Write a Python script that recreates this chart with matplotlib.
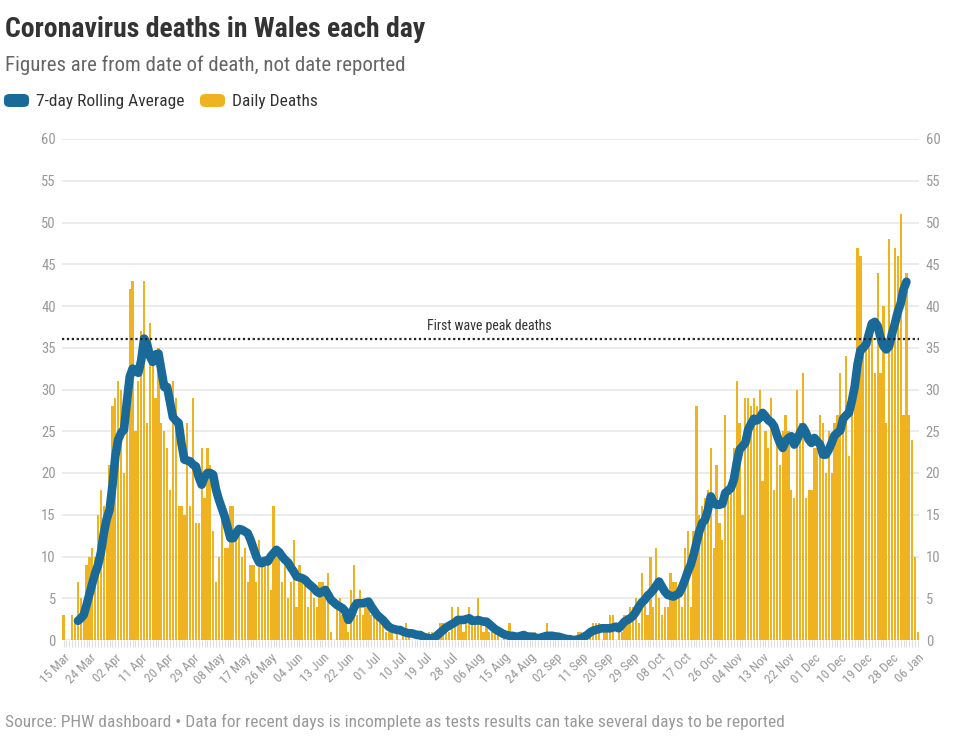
import numpy as np
import pandas as pd
import matplotlib
matplotlib.use("Agg")
import matplotlib.pyplot as plt
import matplotlib.dates as mdates
from matplotlib import font_manager
from matplotlib.patches import FancyBboxPatch

# ---- data ----
start_date = "2020-03-15"
daily_deaths = [
    3, 0, 0, 3, 2, 7, 5, 4, 9, 10, 11, 10, 15, 18, 16, 15, 21, 28, 29, 31,
    30, 20, 32, 42, 43, 25, 31, 37, 43, 26, 38, 34, 29, 35,
    26, 25, 23, 18, 31, 29, 16, 16, 15, 26, 16, 29, 14, 14, 23, 17, 23, 21,
    13, 7, 10, 16, 11, 11, 16, 16, 12, 13, 10, 11, 7, 9, 9, 7, 12, 10, 10, 10,
    6, 16, 11, 10, 7, 9, 5, 7, 12, 4, 9, 7, 7, 4, 6, 5, 4, 7, 7, 6, 8, 1, 0,
    4, 5, 3, 4, 1, 6, 9, 3, 6, 3, 4, 5,
    3, 3, 3, 2, 2, 1, 1, 1, 0, 1, 0, 1, 2, 1, 0, 0, 0, 0, 1, 0, 1, 1, 0, 0,
    2, 2, 1, 1, 4, 2, 4, 2, 1, 3, 4, 3, 2,
    5, 2, 1, 2, 1, 1, 1, 1, 0, 1, 0, 2, 0, 1, 0, 1, 1, 0, 0, 0, 1, 0, 0, 0,
    2, 0, 0, 1, 0, 0, 0, 0, 0, 0, 0, 1,
    1, 1, 1, 1, 2, 2, 2, 0, 1, 1, 3, 3, 0, 1, 1, 3, 3, 4, 4, 5, 2, 8, 5, 3,
    10, 4, 11, 5, 3, 4, 4, 8, 7, 7, 5, 4,
    11, 13, 4, 13, 28, 15, 16, 17, 18, 23, 11, 21, 14, 12, 27, 18, 18, 23,
    31, 26, 15, 29, 29, 28, 29, 28, 30, 19, 25, 23, 29, 18, 25, 21, 25, 27, 25,
    18, 17, 30, 26, 32, 17, 18, 18, 23, 23, 27, 26, 20, 25, 20, 26, 27, 32,
    27, 34, 22, 29, 32, 47, 46, 34, 36, 35, 38, 32, 44, 32, 40, 26, 48, 35,
    47, 46, 51, 27, 44, 27, 24, 10, 1,
]

# 7-day rolling average, starts 5 days after start_date
rolling_start = "2020-03-20"
rolling_avg = [
    2.3, 2.6, 3.0, 4.2, 5.5, 6.8, 8.0, 9.0, 10.5, 12.8,
    14.5, 15.6, 18.5, 22.0, 24.0, 24.8, 25.2, 28.5, 31.5, 32.5,
    32.2, 32.0, 33.5, 36.1, 35.5, 34.0, 33.3, 34.2, 34.3, 32.3,
    30.3, 30.3, 28.5, 26.7, 26.3, 26.0, 23.5, 21.6, 21.5, 21.4,
    21.0, 20.8, 19.5, 18.6, 19.5, 20.0, 20.0, 19.8, 18.0, 16.8,
    15.8, 14.8, 13.5, 12.2, 12.2, 12.8, 13.3, 13.2, 13.0, 12.8,
    12.0, 11.0, 10.0, 9.3, 9.2, 9.5, 9.4, 10.0, 10.4, 10.8,
    10.5, 10.0, 9.6, 9.3, 8.7, 8.2, 7.6, 7.5, 7.4, 7.2,
    6.8, 6.5, 6.2, 5.8, 5.6, 5.8, 6.0, 5.4, 4.8, 4.5,
    4.2, 4.0, 3.8, 3.4, 2.4, 3.0, 3.9, 4.4, 4.4, 4.4,
    4.5, 4.6, 4.0, 3.5, 3.0, 2.7, 2.4, 2.0, 1.6, 1.4,
    1.3, 1.2, 1.2, 1.0, 0.9, 0.8, 0.8, 0.7, 0.6, 0.6,
    0.4, 0.3, 0.2, 0.2, 0.3, 0.6, 0.9, 1.2, 1.5, 1.7,
    1.9, 2.1, 2.4, 2.4, 2.4, 2.5, 2.6, 2.3, 2.3, 2.4,
    2.3, 2.2, 2.2, 1.9, 1.6, 1.3, 1.1, 0.9, 0.7, 0.6,
    0.5, 0.5, 0.4, 0.4, 0.5, 0.6, 0.4, 0.4, 0.4, 0.3,
    0.2, 0.3, 0.4, 0.5, 0.5, 0.5, 0.4, 0.4, 0.3, 0.2,
    0.1, 0.1, 0.0, 0.0, 0.1, 0.2, 0.4, 0.6, 0.9, 1.1,
    1.2, 1.3, 1.4, 1.4, 1.4, 1.4, 1.5, 1.6, 1.4, 1.8,
    2.2, 2.4, 2.6, 2.9, 3.4, 4.0, 4.5, 4.8, 5.3, 5.6,
    6.0, 6.5, 7.0, 6.4, 5.8, 5.4, 5.3, 5.2, 5.4, 5.6,
    6.3, 7.2, 8.2, 9.0, 10.2, 11.6, 13.0, 14.0, 14.4, 15.6,
    17.2, 16.4, 16.2, 16.2, 16.3, 17.6, 17.9, 18.2, 19.2, 21.2,
    22.8, 23.2, 23.6, 25.2, 25.9, 26.5, 26.3, 26.6, 27.2, 26.8,
    26.3, 26.1, 25.6, 24.5, 23.6, 23.0, 23.8, 24.2, 24.4, 23.4,
    24.0, 24.8, 25.5, 24.9, 24.0, 23.6, 24.2, 23.8, 23.4, 22.2,
    22.2, 22.8, 23.6, 24.5, 24.8, 25.1, 26.5, 26.9, 27.2, 28.6,
    30.3, 33.0, 34.7, 35.0, 35.4, 36.7, 37.9, 38.1, 37.6, 36.2,
    35.2, 34.8, 35.2, 36.7, 37.9, 39.3, 40.3, 42.0, 42.9,
]

first_wave_peak = 36.1
y_ticks = list(range(0, 65, 5))

title = "Coronavirus deaths in Wales each day"
subtitle = "Figures are from date of death, not date reported"
source = ("Source: PHW dashboard \u2022 Data for recent days is incomplete as "
          "tests results can take several days to be reported")

BAR_COLOR = "#EFB322"
LINE_COLOR = "#1A6A99"
GRID_COLOR = "#e6e6e6"
TICK_COLOR = "#999999"


def pick_font(candidates):
    names = {f.name for f in font_manager.fontManager.ttflist}
    for c in candidates:
        if c in names:
            return c
    return "DejaVu Sans"


FONT = pick_font(["Roboto Condensed", "Roboto", "Open Sans"])
# font sizes: condensed face can use the reference sizes, otherwise shrink
if FONT == "Roboto Condensed":
    fs = dict(title=20, sub=15, legend=12.5, source=12.5, ytick=10.5, xtick=9.5, note=10)
else:
    fs = dict(title=17, sub=13.4, legend=11, source=11.1, ytick=10, xtick=8.8, note=9.6)
plt.rcParams["font.family"] = [FONT, "DejaVu Sans"]

dates = pd.date_range(start_date, periods=len(daily_deaths), freq="D")
roll_dates = pd.date_range(rolling_start, periods=len(rolling_avg), freq="D")

W, H = 967, 737
fig = plt.figure(figsize=(W / 100, H / 100), dpi=100)

left_px, right_px, top_px, bottom_px = 62, 919.5, 139, 640
ax = fig.add_axes([left_px / W, 1 - bottom_px / H,
                   (right_px - left_px) / W, (bottom_px - top_px) / H])

ax.bar(dates, daily_deaths, width=0.78, color=BAR_COLOR, zorder=2)
ax.plot(roll_dates, rolling_avg, color=LINE_COLOR, lw=6.2,
        solid_capstyle="round", solid_joinstyle="round", zorder=3)

ax.axhline(first_wave_peak, color="#222222", lw=1.6,
           linestyle=(0, (1, 1.2)), zorder=4)
ax.text(dates[148], first_wave_peak + 0.7,
        "First wave peak deaths", ha="center", va="bottom",
        fontsize=fs["note"], color="#333333", zorder=5)

ax.set_xlim(dates[0] - pd.Timedelta(hours=13), dates[-1] + pd.Timedelta(hours=13))
ax.set_ylim(0, 60)

ax.set_yticks(y_ticks)
ax.yaxis.grid(True, color=GRID_COLOR, lw=1.1, zorder=0)
ax.set_axisbelow(True)
ax.tick_params(axis="y", which="both", length=0, labelsize=fs["ytick"],
               labelcolor=TICK_COLOR, left=False, right=False,
               labelleft=True, labelright=True, pad=4.5)

tick_dates = dates[::9]
ax.set_xticks(tick_dates)
ax.set_xticklabels([d.strftime("%d %b") for d in tick_dates],
                   rotation=45, ha="right", rotation_mode="anchor")
ax.xaxis.set_minor_locator(mdates.DayLocator())
ax.tick_params(axis="x", which="both", length=5, color="#dddddd",
               width=0.8, labelsize=fs["xtick"], labelcolor=TICK_COLOR, pad=3)

for s in ax.spines.values():
    s.set_visible(False)

# header
fig.text(5 / W, 1 - 37 / H, title, fontsize=fs["title"], fontweight="bold",
         color="#333333", va="baseline")
fig.text(5 / W, 1 - 71 / H, subtitle, fontsize=fs["sub"], color="#666666",
         va="baseline")

# legend
for x0, col, label in [(4, LINE_COLOR, "7-day Rolling Average"),
                       (200, BAR_COLOR, "Daily Deaths")]:
    fig.patches.append(FancyBboxPatch(
        (x0 / W, 1 - 107 / H), 25 / W, 13 / H,
        boxstyle="round,pad=0,rounding_size=0.006",
        transform=fig.transFigure, facecolor=col, edgecolor="none"))
    fig.text((x0 + 32) / W, 1 - 106 / H, label, fontsize=fs["legend"],
             color="#333333", va="baseline")

fig.text(5 / W, 1 - 727 / H, source, fontsize=fs["source"], color="#999999",
         va="baseline")

fig.savefig("out.png", dpi=100)
